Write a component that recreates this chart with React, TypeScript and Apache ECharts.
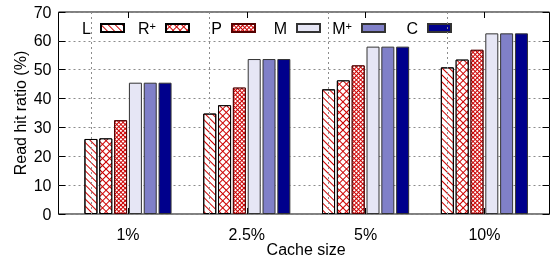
import React, { useEffect, useRef } from 'react';
import * as echarts from 'echarts';

const categories = ['1%', '2.5%', '5%', '10%'];
const seriesNames = ['L', 'R+', 'P', 'M', 'M+', 'C'];
const valuesL = [26.0, 34.8, 43.2, 50.8];
const valuesRplus = [26.2, 37.7, 46.3, 53.5];
const valuesP = [32.5, 43.8, 51.5, 56.9];
const valuesM = [45.5, 53.7, 58.0, 62.6];
const valuesMplus = [45.5, 53.7, 58.0, 62.6];
const valuesC = [45.5, 53.7, 58.0, 62.6];
const yMin = 0;
const yMax = 70;
const yStep = 10;

const FONT = "'Liberation Sans', Arial, Helvetica, sans-serif";
const RED = '#cc0000';

const allValues = [valuesL, valuesRplus, valuesP, valuesM, valuesMplus, valuesC];

const styles: any[] = [
  {
    color: '#ffffff', borderColor: '#000000', borderWidth: 1,
    decal: { symbol: 'rect', symbolSize: 1, dashArrayX: [1, 0], dashArrayY: [1, 4], rotation: Math.PI / 4, color: RED },
  },
  {
    color: RED, borderColor: '#000000', borderWidth: 1,
    decal: { symbol: 'rect', symbolSize: 1, dashArrayX: [4, 1], dashArrayY: [4, 1], rotation: Math.PI / 4, color: '#ffffff' },
  },
  {
    color: RED, borderColor: '#550000', borderWidth: 1,
    decal: { symbol: 'rect', symbolSize: 1, dashArrayX: [2, 1], dashArrayY: [2, 1], rotation: Math.PI / 4, color: '#ffffff' },
  },
  { color: '#e6e6f5', borderColor: '#333333', borderWidth: 1 },
  { color: '#8080c8', borderColor: '#333333', borderWidth: 1 },
  { color: '#00008c', borderColor: '#333333', borderWidth: 1 },
];

// right edge of each legend swatch (px from the chart's right edge)
const legendRights = [425, 360, 294, 229, 164, 98];

export default function App() {
  const ref = useRef<HTMLDivElement>(null);
  useEffect(() => {
    if (!ref.current) return;
    const chart = echarts.init(ref.current, undefined, { renderer: 'svg' });
    const dotted = { type: [2, 3] as any, color: '#8c8c8c', width: 1 };
    const option: any = {
      animation: false,
      textStyle: { fontFamily: FONT },
      grid: [
        { left: 58.5, right: 0.5, top: 12, bottom: 49, show: true, borderColor: '#000', borderWidth: 1, backgroundColor: 'transparent', containLabel: false, outerBoundsMode: 'none' },
        { left: 68.6, right: 6.2, top: 12, bottom: 49, containLabel: false, outerBoundsMode: 'none' },
      ],
      legend: seriesNames.map((n, i) => ({
        data: [n],
        right: legendRights[i],
        top: 20,
        padding: 0,
        align: 'right',
        icon: 'rect',
        itemWidth: 23,
        itemHeight: 8,
        selectedMode: false,
        formatter: (name: string) => name.replace('+', '{sup|+}'),
        textStyle: {
          fontSize: 16, color: '#000', fontFamily: FONT, padding: [0, 5, 0, 0],
          rich: { sup: { fontSize: 11, verticalAlign: 'top', lineHeight: 8, color: '#000', fontFamily: FONT } },
        },
      })),
      xAxis: [
        { gridIndex: 0, type: 'value', show: false, min: 0, max: 1 },
        {
          gridIndex: 1, type: 'category', data: categories, position: 'bottom',
          axisLine: { show: false },
          axisTick: { show: true, inside: true, alignWithLabel: true, length: 6, lineStyle: { color: '#000' } },
          axisLabel: { fontSize: 16, color: '#000', margin: 12, fontFamily: FONT },
          splitLine: { show: false },
          name: 'Cache size', nameLocation: 'middle', nameGap: 27.5, nameMoveOverlap: false,
          nameTextStyle: { fontSize: 16, color: '#000', fontFamily: FONT },
        },
        {
          gridIndex: 1, type: 'category', data: categories, position: 'top',
          axisLine: { show: false },
          axisTick: { show: true, inside: true, alignWithLabel: true, length: 6, lineStyle: { color: '#000' } },
          axisLabel: { show: false },
          splitLine: { show: false },
        },
      ],
      yAxis: [
        {
          gridIndex: 0, type: 'value', min: yMin, max: yMax, interval: yStep, position: 'left',
          axisLine: { show: false },
          axisTick: { show: true, inside: true, length: 7, lineStyle: { color: '#000' } },
          axisLabel: { fontSize: 16, color: '#000', margin: 7, fontFamily: FONT },
          splitLine: { show: true, lineStyle: dotted },
          name: 'Read hit ratio (%)', nameLocation: 'middle', nameGap: 30, nameRotate: 90, nameMoveOverlap: false,
          nameTextStyle: { fontSize: 16, color: '#000', fontFamily: FONT },
        },
        {
          gridIndex: 0, type: 'value', min: yMin, max: yMax, interval: yStep, position: 'right',
          axisLine: { show: false },
          axisTick: { show: true, inside: true, length: 7, lineStyle: { color: '#000' } },
          axisLabel: { show: false },
          splitLine: { show: false },
        },
        { gridIndex: 1, type: 'value', min: yMin, max: yMax, show: false },
      ],
      series: seriesNames.map((n, i) => ({
        name: n,
        type: 'bar',
        xAxisIndex: 1,
        yAxisIndex: 2,
        barWidth: 13,
        barGap: '14%',
        data: allValues[i],
        itemStyle: styles[i],
        emphasis: { disabled: true },
        markLine: i === 0 ? {
          silent: true,
          symbol: 'none',
          label: { show: false },
          lineStyle: dotted,
          emphasis: { disabled: true },
          data: categories.map((c) => ({ xAxis: c })),
        } : undefined,
      })),
    };
    chart.setOption(option);
    return () => chart.dispose();
  }, []);
  return <div ref={ref} style={{ position: 'fixed', left: 0, top: 0, width: 550, height: 263 }} />;
}
